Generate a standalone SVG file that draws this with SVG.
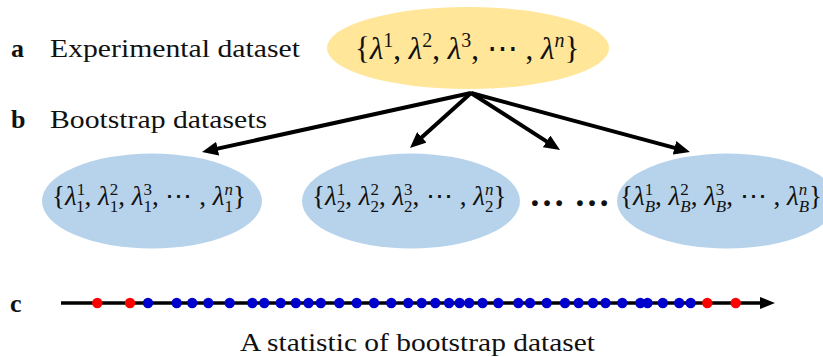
<svg xmlns="http://www.w3.org/2000/svg" width="823" height="357" viewBox="0 0 823 357">
<style>
.lbl{font-family:"Liberation Serif","Times New Roman",serif;font-size:26px;fill:#111}
.bold{font-weight:bold}
.math{font-family:"Liberation Serif","DejaVu Serif",serif;font-size:27px;fill:#111}
.big{font-size:31px}
.it{font-style:italic}
.s{font-size:17px}
.sb{font-size:20px}
.yel{fill:#FFE699}
.blu{fill:#B7D3EB}
.conn{stroke:#000;stroke-width:4;fill:none;marker-end:url(#ah)}
.red{fill:#FF0000}
.blue{fill:#0000CC}
</style>
<defs>
<marker id="ah" viewBox="0 0 16 14" markerWidth="16" markerHeight="14" refX="6" refY="7" orient="auto" markerUnits="userSpaceOnUse">
<path d="M0,0 L16,7 L0,14 z" fill="#000"/>
</marker>
</defs>

<g id="labels">
<text class="lbl bold" x="11" y="57">a</text>
<text class="lbl" x="50" y="57" textLength="250" lengthAdjust="spacingAndGlyphs">Experimental dataset</text>
<text class="lbl bold" x="11" y="128">b</text>
<text class="lbl" x="50" y="128" textLength="217" lengthAdjust="spacingAndGlyphs">Bootstrap datasets</text>
<text class="lbl bold" x="10" y="312">c</text>
<text class="lbl" x="240" y="351" textLength="355" lengthAdjust="spacingAndGlyphs">A statistic of bootstrap dataset</text>
</g>

<g id="experimental">
<ellipse class="yel" cx="468" cy="48" rx="141" ry="41"/>
<text class="math big" x="355" y="59">{<tspan class="it">λ</tspan><tspan class="sb" dy="-12">1</tspan><tspan dy="12">, </tspan><tspan class="it">λ</tspan><tspan class="sb" dy="-12">2</tspan><tspan dy="12">, </tspan><tspan class="it">λ</tspan><tspan class="sb" dy="-12">3</tspan><tspan dy="12">, ⋯ , </tspan><tspan class="it">λ</tspan><tspan class="sb it" dy="-12">n</tspan><tspan dy="12">}</tspan></text>
</g>

<g id="boot1">
<ellipse class="blu" cx="152" cy="201" rx="110" ry="47.5"/>
<text class="math" x="52" y="205">{<tspan class="it">λ</tspan><tspan class="s" dy="-10">1</tspan><tspan class="s" dx="-8.5" dy="17">1</tspan><tspan dy="-7">, </tspan><tspan class="it">λ</tspan><tspan class="s" dy="-10">2</tspan><tspan class="s" dx="-8.5" dy="17">1</tspan><tspan dy="-7">, </tspan><tspan class="it">λ</tspan><tspan class="s" dy="-10">3</tspan><tspan class="s" dx="-8.5" dy="17">1</tspan><tspan dy="-7">, ⋯ , </tspan><tspan class="it">λ</tspan><tspan class="s it" dy="-10">n</tspan><tspan class="s" dx="-8.5" dy="17">1</tspan><tspan dy="-7">}</tspan></text>
</g>

<g id="boot2">
<ellipse class="blu" cx="411" cy="201" rx="109" ry="47.5"/>
<text class="math" x="312" y="205">{<tspan class="it">λ</tspan><tspan class="s" dy="-10">1</tspan><tspan class="s" dx="-8.5" dy="17">2</tspan><tspan dy="-7">, </tspan><tspan class="it">λ</tspan><tspan class="s" dy="-10">2</tspan><tspan class="s" dx="-8.5" dy="17">2</tspan><tspan dy="-7">, </tspan><tspan class="it">λ</tspan><tspan class="s" dy="-10">3</tspan><tspan class="s" dx="-8.5" dy="17">2</tspan><tspan dy="-7">, ⋯ , </tspan><tspan class="it">λ</tspan><tspan class="s it" dy="-10">n</tspan><tspan class="s" dx="-8.5" dy="17">2</tspan><tspan dy="-7">}</tspan></text>
</g>

<g id="ellipsis">
<text x="529" y="205.5" font-family="'Liberation Serif',serif" font-size="36" font-weight="bold" fill="#111">… …</text>
</g>

<g id="bootB">
<ellipse class="blu" cx="727" cy="201" rx="110" ry="47.5"/>
<text class="math" x="620" y="205">{<tspan class="it">λ</tspan><tspan class="s" dy="-10">1</tspan><tspan class="s it" dx="-8.5" dy="17">B</tspan><tspan dy="-7">, </tspan><tspan class="it">λ</tspan><tspan class="s" dy="-10">2</tspan><tspan class="s it" dx="-8.5" dy="17">B</tspan><tspan dy="-7">, </tspan><tspan class="it">λ</tspan><tspan class="s" dy="-10">3</tspan><tspan class="s it" dx="-8.5" dy="17">B</tspan><tspan dy="-7">, ⋯ , </tspan><tspan class="it">λ</tspan><tspan class="s it" dy="-10">n</tspan><tspan class="s it" dx="-8.5" dy="17">B</tspan><tspan dy="-7">}</tspan></text>
</g>

<g id="connectors">
<line class="conn" x1="471" y1="93" x2="211.8" y2="149.9"/>
<line class="conn" x1="471" y1="93" x2="417.4" y2="141.3"/>
<line class="conn" x1="471" y1="93" x2="551.6" y2="144.6"/>
<line class="conn" x1="471" y1="93" x2="680.3" y2="149.4"/>
</g>

<g id="axis">
<line x1="61" y1="303" x2="762" y2="303" stroke="#000" stroke-width="3.5"/>
<path d="M760,297 L775,303 L760,309 z" fill="#000"/>
<g class="red">
<circle cx="97.3" cy="303" r="5.2"/><circle cx="130" cy="303" r="5.2"/><circle cx="707.3" cy="303" r="5.2"/><circle cx="735.7" cy="303" r="5.2"/>
</g>
<g class="blue">
<circle cx="148" cy="303" r="5.2"/><circle cx="176.7" cy="303" r="5.2"/><circle cx="192.2" cy="303" r="5.2"/><circle cx="208.3" cy="303" r="5.2"/><circle cx="229.7" cy="303" r="5.2"/><circle cx="252.3" cy="303" r="5.2"/><circle cx="264.3" cy="303" r="5.2"/><circle cx="280.7" cy="303" r="5.2"/><circle cx="295.8" cy="303" r="5.2"/><circle cx="308.5" cy="303" r="5.2"/><circle cx="320.8" cy="303" r="5.2"/><circle cx="339.3" cy="303" r="5.2"/><circle cx="356.7" cy="303" r="5.2"/><circle cx="374" cy="303" r="5.2"/><circle cx="391.3" cy="303" r="5.2"/><circle cx="408.2" cy="303" r="5.2"/><circle cx="421.7" cy="303" r="5.2"/><circle cx="435.3" cy="303" r="5.2"/><circle cx="449" cy="303" r="5.2"/><circle cx="459.6" cy="303" r="5.2"/><circle cx="469.2" cy="303" r="5.2"/><circle cx="482.5" cy="303" r="5.2"/><circle cx="498.3" cy="303" r="5.2"/><circle cx="518.3" cy="303" r="5.2"/><circle cx="530" cy="303" r="5.2"/><circle cx="546.7" cy="303" r="5.2"/><circle cx="565" cy="303" r="5.2"/><circle cx="578.6" cy="303" r="5.2"/><circle cx="593" cy="303" r="5.2"/><circle cx="605.5" cy="303" r="5.2"/><circle cx="622.3" cy="303" r="5.2"/><circle cx="640.3" cy="303" r="5.2"/><circle cx="647.5" cy="303" r="5.2"/><circle cx="662.8" cy="303" r="5.2"/><circle cx="679.2" cy="303" r="5.2"/><circle cx="690.7" cy="303" r="5.2"/>
</g>
</g>
</svg>
